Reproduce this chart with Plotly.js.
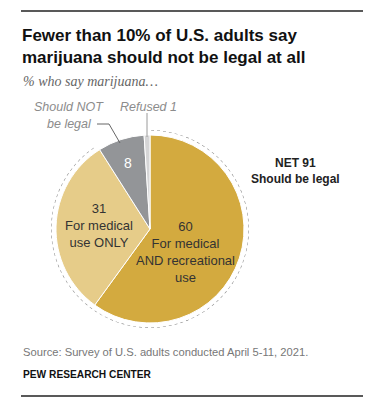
<!DOCTYPE html>
<html>
<head>
<meta charset="utf-8">
<script src="https://cdn.plot.ly/plotly-3.0.1.min.js"></script>
<style>html,body{margin:0;padding:0;background:#fff;}#chart{width:378px;height:411px;}</style>
</head>
<body>
<div id="chart"></div>
<script>
// ---- data ----
const categories = ['For medical AND recreational use', 'For medical use ONLY', 'Should NOT be legal', 'Refused'];
const values = [60, 31, 8, 1];
const sliceLabels = ['For medical<br>AND recreational<br>use', 'For medical<br>use ONLY', '', ''];
const sliceColors = ['#D3AA3F', '#E6CC89', '#939598', '#D5D5D6'];
const netValue = values[0] + values[1];
const netLabel = 'Should be legal';
const titleText = 'Fewer than 10% of U.S. adults say<br>marijuana should not be legal at all';
const subtitleText = '% who say marijuana…';
const sourceText = 'Source: Survey of U.S. adults conducted April 5-11, 2021.';
const creditText = 'PEW RESEARCH CENTER';

// ---- helpers (pixel -> paper) ----
const W = 378, H = 411;
const px = x => x / W;
const py = y => 1 - y / H;

// dotted bracket arc over the "should be legal" share
const total = values.reduce((a, b) => a + b, 0);
const arcEnd = netValue / total * 360;
const arcTheta = [], arcR = [];
for (let i = 0; i <= 200; i++) { arcTheta.push(0.6 + (arcEnd - 1.2) * i / 200); arcR.push(1); }

const pie = {
  type: 'pie',
  labels: categories,
  values: values,
  sort: false,
  direction: 'clockwise',
  rotation: 0,
  textinfo: 'none',
  hoverinfo: 'label+value',
  marker: { colors: sliceColors, line: { color: '#ffffff', width: 1 } },
  domain: { x: [px(56), px(244)], y: [py(323), py(135)] },
  showlegend: false
};

const arc = {
  type: 'scatterpolar',
  r: arcR,
  theta: arcTheta,
  mode: 'lines',
  line: { color: '#8a8a8a', width: 1.2, dash: 'dot' },
  hoverinfo: 'skip',
  showlegend: false,
  subplot: 'polar'
};

const sans = 'Liberation Sans, Arial, sans-serif';
const labelFont = { family: sans, size: 13, color: '#333333' };
const noteFont = { family: sans, size: 12.5, color: '#8c8c8c' };
const annotations = [
  { text: '<b>' + titleText + '</b>', x: px(20), y: py(24), xanchor: 'left', yanchor: 'top', align: 'left', font: { family: sans, size: 17, color: '#111111' } },
  { text: values[0] + '<br>' + sliceLabels[0], x: px(185), y: py(252), xanchor: 'center', yanchor: 'middle', font: labelFont },
  { text: values[1] + '<br>' + sliceLabels[1], x: px(99), y: py(225), xanchor: 'center', yanchor: 'middle', font: labelFont },
  { text: String(values[2]), x: px(128), y: py(163), xanchor: 'center', yanchor: 'middle', font: Object.assign({}, labelFont, { color: '#ffffff', size: 14 }) },
  { text: '<i>' + categories[3] + ' ' + values[3] + '</i>', x: px(118), y: py(107), xanchor: 'left', yanchor: 'middle', font: noteFont },
  { text: '<i>Should NOT</i>', x: px(106), y: py(107), xanchor: 'right', yanchor: 'middle', font: noteFont },
  { text: '<i>be legal</i>', x: px(94), y: py(124), xanchor: 'right', yanchor: 'middle', font: noteFont },
  { text: '<b>NET ' + netValue + '</b>', x: px(295), y: py(163), xanchor: 'center', yanchor: 'middle', font: { family: sans, size: 12, color: '#222222' } },
  { text: '<b>' + netLabel + '</b>', x: px(295), y: py(179), xanchor: 'center', yanchor: 'middle', font: { family: sans, size: 12, color: '#222222' } },
  { text: '<i>' + subtitleText + '</i>', x: px(21), y: py(82), xanchor: 'left', yanchor: 'middle', font: { family: 'Liberation Serif, serif', size: 14, color: '#666666' } },
  { text: sourceText, x: px(21), y: py(352), xanchor: 'left', yanchor: 'middle', font: { family: sans, size: 11.2, color: '#777777' } },
  { text: '<b>' + creditText + '</b>', x: px(21), y: py(374), xanchor: 'left', yanchor: 'middle', font: { family: sans, size: 10.2, color: '#111111' } }
].map(a => Object.assign({ xref: 'paper', yref: 'paper', showarrow: false, align: 'center' }, a));

const shapes = [
  { type: 'rect', xref: 'paper', yref: 'paper', x0: px(21), x1: px(363), y0: py(10.3), y1: py(11.8), fillcolor: '#222222', line: { width: 0 } },
  { type: 'rect', xref: 'paper', yref: 'paper', x0: px(21), x1: px(363), y0: py(395.3), y1: py(396.8), fillcolor: '#222222', line: { width: 0 } },
  { type: 'line', xref: 'paper', yref: 'paper', x0: px(147), x1: px(147), y0: py(113), y1: py(137), line: { color: '#9a9a9a', width: 1 } },
  { type: 'path', xref: 'paper', yref: 'paper', path: 'M ' + px(97) + ',' + py(124) + ' L ' + px(109) + ',' + py(124) + ' L ' + px(120) + ',' + py(143), line: { color: '#666', width: 1 } }
];

const layout = {
  width: W, height: H,
  margin: { l: 0, r: 0, t: 0, b: 0 },
  paper_bgcolor: '#ffffff',
  plot_bgcolor: '#ffffff',
  polar: {
    domain: { x: [px(51), px(249)], y: [py(328), py(130)] },
    bgcolor: 'rgba(0,0,0,0)',
    radialaxis: { visible: false, range: [0, 1] },
    angularaxis: { visible: false, rotation: 90, direction: 'clockwise' }
  },
  annotations: annotations,
  shapes: shapes,
  showlegend: false
};

Plotly.newPlot('chart', [pie, arc], layout, { displayModeBar: false, staticPlot: true });
</script>
</body>
</html>
